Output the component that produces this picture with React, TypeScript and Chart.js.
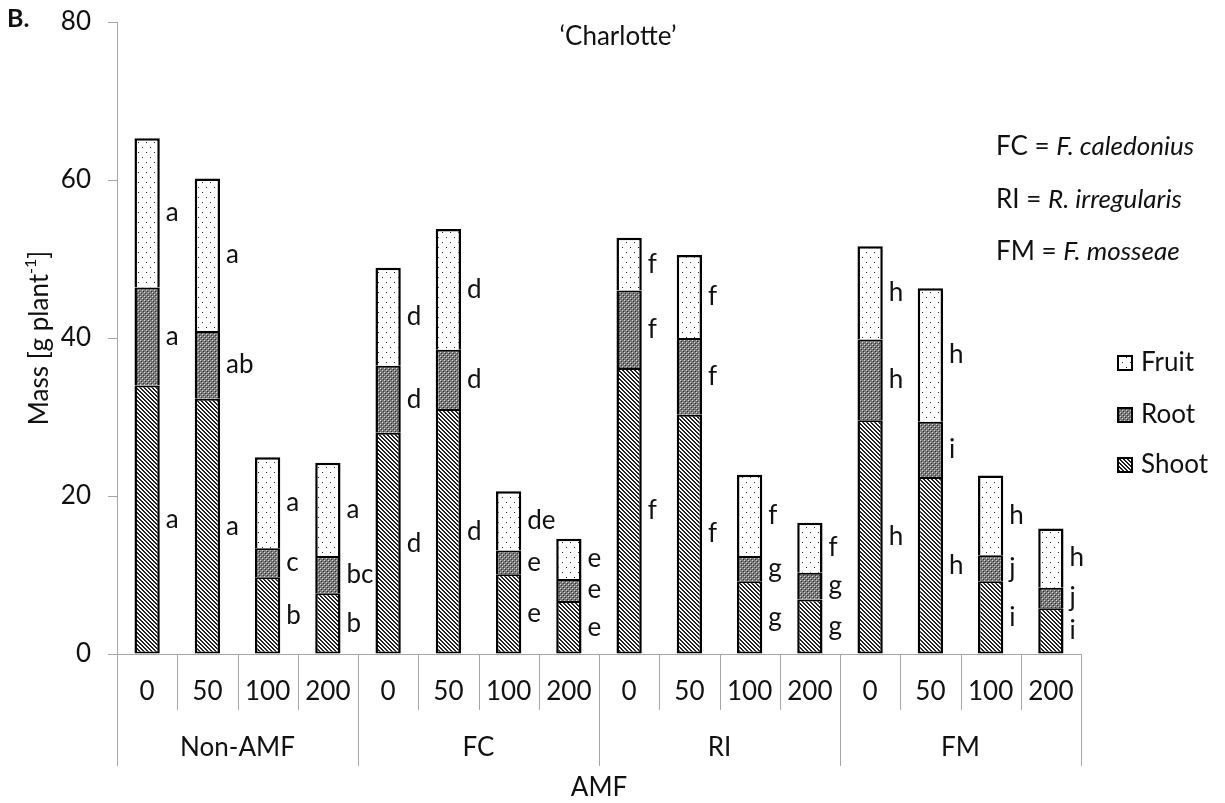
import React, { useEffect, useRef } from 'react';
import { Chart, registerables } from 'chart.js';

Chart.register(...registerables);

const doses = ['0', '50', '100', '200', '0', '50', '100', '200', '0', '50', '100', '200', '0', '50', '100', '200'];
const groups = ['Non-AMF', 'FC', 'RI', 'FM'];
const shootValues = [34.0, 32.3, 9.7, 7.7, 28.0, 31.0, 10.1, 6.7, 36.2, 30.3, 9.2, 6.9, 29.6, 22.4, 9.2, 5.8];
const rootValues = [12.4, 8.6, 3.7, 4.7, 8.5, 7.5, 3.0, 2.8, 9.8, 9.7, 3.2, 3.4, 10.2, 7.0, 3.3, 2.6];
const fruitValues = [18.9, 19.3, 11.5, 11.8, 12.4, 15.3, 7.5, 5.1, 6.7, 10.5, 10.3, 6.3, 11.8, 16.9, 10.1, 7.5];
const shootLetters = ['a', 'a', 'b', 'b', 'd', 'd', 'e', 'e', 'f', 'f', 'g', 'g', 'h', 'h', 'i', 'i'];
const rootLetters = ['a', 'ab', 'c', 'bc', 'd', 'd', 'e', 'e', 'f', 'f', 'g', 'g', 'h', 'i', 'j', 'j'];
const fruitLetters = ['a', 'a', 'a', 'a', 'd', 'd', 'de', 'e', 'f', 'f', 'f', 'f', 'h', 'h', 'h', 'h'];
const yMin = 0;
const yMax = 80;
const yStep = 20;
const legendItems = ['Fruit', 'Root', 'Shoot'];
const notes = [
  ['FC = ', 'F. caledonius'],
  ['RI = ', 'R. irregularis'],
  ['FM = ', 'F. mosseae'],
];

const FONT = 'Lato, "Open Sans", sans-serif';
const FS = 26;
const TEXT = '#111';
const AXIS = '#a6a6a6';

function makePattern(kind: string): CanvasPattern | string {
  const c = document.createElement('canvas');
  const ctx = c.getContext('2d')!;
  if (kind === 'shoot') {
    c.width = 4; c.height = 4;
    ctx.fillStyle = '#fff';
    ctx.fillRect(0, 0, 4, 4);
    ctx.fillStyle = '#222';
    for (let i = 0; i < 4; i++) {
      ctx.fillRect(i, i, 1, 1);
      ctx.fillRect((i + 1) % 4, i, 1, 1);
    }
  } else if (kind === 'root') {
    c.width = 4; c.height = 4;
    ctx.fillStyle = '#7a7a7a';
    ctx.fillRect(0, 0, 4, 4);
    ctx.fillStyle = '#d8d8d8';
    ctx.fillRect(0, 0, 1, 1);
    ctx.fillRect(2, 2, 1, 1);
    ctx.fillStyle = '#333';
    ctx.fillRect(1, 1, 1, 1);
    ctx.fillRect(3, 3, 1, 1);
  } else {
    c.width = 8; c.height = 10;
    ctx.fillStyle = '#fff';
    ctx.fillRect(0, 0, 8, 10);
    ctx.fillStyle = '#222';
    ctx.fillRect(2, 2, 1, 1);
    ctx.fillRect(6, 7, 1, 1);
  }
  const p = ctx.createPattern(c, 'repeat');
  return p || '#fff';
}

export default function App() {
  const ref = useRef<HTMLCanvasElement>(null);

  useEffect(() => {
    let chart: Chart | null = null;
    let cancelled = false;

    const build = () => {
      if (cancelled || !ref.current) return;
      const shootPat = makePattern('shoot');
      const rootPat = makePattern('root');
      const fruitPat = makePattern('fruit');
      const pats = [fruitPat, rootPat, shootPat];
      const letterSets = [shootLetters, rootLetters, fruitLetters];

      const overlay = {
        id: 'overlay',
        afterDatasetsDraw(ch: any) {
          const ctx: CanvasRenderingContext2D = ch.ctx;
          const area = ch.chartArea;
          ctx.save();
          // segment letters
          ctx.font = `${FS}px ${FONT}`;
          ctx.fillStyle = TEXT;
          ctx.textAlign = 'left';
          ctx.textBaseline = 'middle';
          for (let d = 0; d < 3; d++) {
            const meta = ch.getDatasetMeta(d);
            meta.data.forEach((el: any, i: number) => {
              const x = el.x + el.width / 2 + 6;
              const y = (el.y + el.base) / 2;
              ctx.fillText(letterSets[d][i], x, y);
            });
          }

          // x axis
          const bottom = area.bottom;
          const left = area.left;
          const right = area.right;
          const n = doses.length;
          const catW = (right - left) / n;
          ctx.strokeStyle = AXIS;
          ctx.lineWidth = 1;
          ctx.beginPath();
          ctx.moveTo(left, bottom + 0.5);
          ctx.lineTo(right, bottom + 0.5);
          for (let i = 0; i <= n; i++) {
            const x = Math.round(left + i * catW) + 0.5;
            ctx.moveTo(x, bottom);
            ctx.lineTo(x, bottom + (i % 4 === 0 ? 112 : 56));
          }
          ctx.stroke();
          ctx.textAlign = 'center';
          ctx.textBaseline = 'middle';
          ctx.font = `${FS}px ${FONT}`;
          doses.forEach((d, i) => {
            ctx.fillText(d, left + (i + 0.5) * catW, bottom + 38);
          });
          groups.forEach((g, i) => {
            ctx.fillText(g, left + (i * 4 + 2) * catW, bottom + 94);
          });
          ctx.fillText('AMF', (left + right) / 2, 788);

          // title
          ctx.fillText('\u2018Charlotte\u2019', 618, 37);

          // B.
          ctx.font = `bold 25px ${FONT}`;
          ctx.textAlign = 'left';
          ctx.fillText('B.', 7, 19);

          // y title
          ctx.save();
          ctx.translate(40, 338);
          ctx.rotate(-Math.PI / 2);
          const main = 'Mass [g plant';
          const sup = '-1';
          const end = ']';
          ctx.font = `${FS}px ${FONT}`;
          const w1 = ctx.measureText(main).width;
          const w3 = ctx.measureText(end).width;
          ctx.font = `16px ${FONT}`;
          const w2 = ctx.measureText(sup).width;
          const x0 = -(w1 + w2 + w3) / 2;
          ctx.textAlign = 'left';
          ctx.font = `${FS}px ${FONT}`;
          ctx.fillText(main, x0, 0);
          ctx.font = `16px ${FONT}`;
          ctx.fillText(sup, x0 + w1, -9);
          ctx.font = `${FS}px ${FONT}`;
          ctx.fillText(end, x0 + w1 + w2, 0);
          ctx.restore();

          // notes
          const noteYs = [147, 200, 252];
          notes.forEach((nt, i) => {
            ctx.textAlign = 'left';
            ctx.font = `${FS}px ${FONT}`;
            ctx.fillText(nt[0], 996, noteYs[i]);
            const w = ctx.measureText(nt[0]).width;
            ctx.font = `italic ${FS}px ${FONT}`;
            ctx.fillText(nt[1], 996 + w, noteYs[i]);
          });

          // legend
          const legYs = [363, 415, 465];
          legendItems.forEach((name, i) => {
            const y = legYs[i];
            ctx.fillStyle = pats[i] as any;
            ctx.fillRect(1118, y - 7, 14, 14);
            ctx.strokeStyle = '#000';
            ctx.lineWidth = 2;
            ctx.strokeRect(1118, y - 7, 14, 14);
            ctx.fillStyle = TEXT;
            ctx.font = `${FS}px ${FONT}`;
            ctx.textAlign = 'left';
            ctx.fillText(name, 1141, y);
          });
          ctx.restore();
        },
      };

      const upperBorder = { top: 2, left: 2.5, right: 2.5, bottom: 0 };
      const lowerBorder = { top: 2, left: 2.5, right: 2.5, bottom: 2 };

      chart = new Chart(ref.current, {
        type: 'bar',
        data: {
          labels: doses.map((d, i) => `${groups[Math.floor(i / 4)]} ${d}`),
          datasets: [
            { label: 'Shoot', data: shootValues, backgroundColor: shootPat as any, borderColor: '#000', borderWidth: lowerBorder, borderSkipped: false },
            { label: 'Root', data: rootValues, backgroundColor: rootPat as any, borderColor: '#000', borderWidth: upperBorder, borderSkipped: false },
            { label: 'Fruit', data: fruitValues, backgroundColor: fruitPat as any, borderColor: '#000', borderWidth: { top: 2.5, left: 2.5, right: 2.5, bottom: 0 }, borderSkipped: false },
          ],
        },
        options: {
          responsive: false,
          animation: false,
          events: [],
          layout: { padding: { left: 0, top: 22, right: 144, bottom: 149 } },
          datasets: { bar: { categoryPercentage: 1, barPercentage: 0.42 } },
          plugins: {
            legend: { display: false },
            tooltip: { enabled: false },
            title: { display: false },
          },
          scales: {
            x: { stacked: true, display: false },
            y: {
              stacked: true,
              min: yMin,
              max: yMax,
              afterFit: (scale: any) => {
                scale.width = 117;
                scale.paddingTop = 0;
                scale.paddingBottom = 0;
              },
              border: { color: AXIS, width: 1 },
              grid: { drawOnChartArea: false, color: AXIS, tickLength: 9 },
              ticks: { stepSize: yStep, padding: 17, color: TEXT, font: { family: FONT, size: FS } },
            },
          },
        },
        plugins: [overlay],
      } as any);
    };

    const fontsReady = (document as any).fonts
      ? Promise.all([
          (document as any).fonts.load(`${FS}px Lato`),
          (document as any).fonts.load(`italic ${FS}px Lato`),
          (document as any).fonts.load(`bold 25px Lato`),
        ]).catch(() => null)
      : Promise.resolve(null);
    fontsReady.then(build);

    return () => {
      cancelled = true;
      if (chart) chart.destroy();
    };
  }, []);

  return (
    <div style={{ position: 'absolute', left: 0, top: 0, width: 1225, height: 803, background: '#fff' }}>
      <canvas ref={ref} width={1225} height={803} style={{ display: 'block' }} />
    </div>
  );
}
